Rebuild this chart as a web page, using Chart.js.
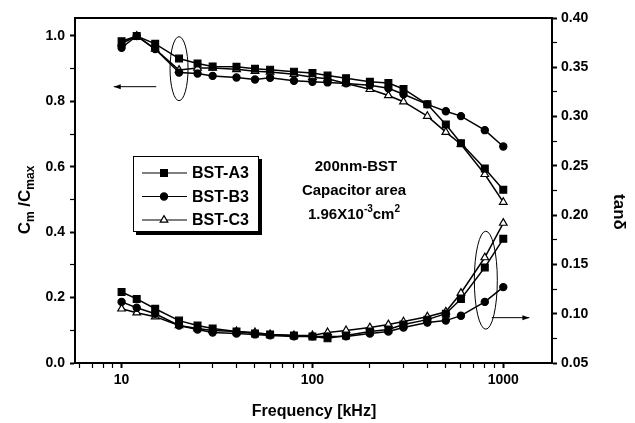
<!DOCTYPE html>
<html>
<head>
<meta charset="utf-8">
<script src="https://cdn.jsdelivr.net/npm/chart.js@4.4.1/dist/chart.umd.min.js"></script>
<style>
  html, body { margin: 0; padding: 0; background: #fff; }
</style>
</head>
<body>
<canvas id="freqChart" width="635" height="423"></canvas>
<script>
// Frequency points (kHz)
const freq = [10, 12, 15, 20, 25, 30, 40, 50, 60, 80, 100, 120, 150, 200, 250, 300, 400, 500, 600, 800, 1000];

// Normalised capacitance Cm/Cmax (left axis)
const cmA3 = [0.984, 1.0, 0.976, 0.931, 0.916, 0.907, 0.906, 0.900, 0.897, 0.891, 0.887, 0.879, 0.871, 0.860, 0.856, 0.838, 0.791, 0.729, 0.672, 0.595, 0.530];
const cmB3 = [0.964, 1.0, 0.960, 0.888, 0.885, 0.878, 0.873, 0.867, 0.872, 0.863, 0.860, 0.858, 0.855, 0.849, 0.840, 0.822, 0.791, 0.770, 0.755, 0.712, 0.662];
const cmC3 = [0.977, 1.0, 0.960, 0.896, 0.902, 0.902, 0.898, 0.892, 0.890, 0.883, 0.874, 0.869, 0.855, 0.837, 0.818, 0.799, 0.755, 0.706, 0.669, 0.577, 0.492];

// Loss tangent (right axis)
const tanA3 = [0.122, 0.115, 0.105, 0.093, 0.088, 0.085, 0.082, 0.080, 0.079, 0.078, 0.077, 0.075, 0.078, 0.082, 0.084, 0.089, 0.094, 0.100, 0.115, 0.147, 0.176];
const tanB3 = [0.112, 0.106, 0.100, 0.088, 0.084, 0.081, 0.080, 0.079, 0.078, 0.077, 0.077, 0.077, 0.077, 0.080, 0.082, 0.086, 0.091, 0.093, 0.098, 0.112, 0.127];
const tanC3 = [0.105, 0.101, 0.097, 0.088, 0.085, 0.083, 0.082, 0.081, 0.079, 0.078, 0.078, 0.081, 0.083, 0.086, 0.089, 0.092, 0.097, 0.102, 0.121, 0.157, 0.192];

const seriesNames = ["BST-A3", "BST-B3", "BST-C3"];

// Tick positions / labels
const xTicks = [6, 7, 8, 9, 10, 20, 30, 40, 50, 60, 70, 80, 90, 100, 200, 300, 400, 500, 600, 700, 800, 900, 1000];
const xLabels = [10, 100, 1000];
const leftTicks = [0, 0.1, 0.2, 0.3, 0.4, 0.5, 0.6, 0.7, 0.8, 0.9, 1.0];
const leftLabels = [0, 0.2, 0.4, 0.6, 0.8, 1.0];
const rightTicks = [0.05, 0.075, 0.1, 0.125, 0.15, 0.175, 0.2, 0.225, 0.25, 0.275, 0.3, 0.325, 0.35, 0.375, 0.4];
const rightLabels = [0.05, 0.1, 0.15, 0.2, 0.25, 0.3, 0.35, 0.4];

const FONT = "'Liberation Sans', Arial, sans-serif";

function pts(ys) {
    return freq.map((f, i) => ({ x: f, y: ys[i] }));
}

function style(name, axis, ys, shape, radius, fill) {
    return {
        label: name,
        data: pts(ys),
        yAxisID: axis,
        borderColor: "#000",
        borderWidth: 1.5,
        pointStyle: shape,
        pointRadius: radius,
        pointBackgroundColor: fill,
        pointBorderColor: "#000",
        pointBorderWidth: 1.2,
        tension: 0,
        fill: false,
    };
}

function isIn(list, v) {
    return list.some(l => Math.abs(l - v) < 1e-6);
}

// draw one marker like Chart.js does
function marker(ctx, shape, x, y, r, fill) {
    ctx.beginPath();
    if (shape === "rect") {
        const s = Math.SQRT1_2 * r;
        ctx.rect(x - s, y - s, 2 * s, 2 * s);
    } else if (shape === "triangle") {
        for (let k = 0; k < 3; k++) {
            const a = k * 2 * Math.PI / 3;
            const px = x + Math.sin(a) * r, py = y - Math.cos(a) * r;
            if (k === 0) ctx.moveTo(px, py); else ctx.lineTo(px, py);
        }
        ctx.closePath();
    } else {
        ctx.arc(x, y, r, 0, 2 * Math.PI);
    }
    ctx.fillStyle = fill;
    ctx.fill();
    ctx.lineWidth = 1.2;
    ctx.strokeStyle = "#000";
    ctx.stroke();
}

// text with sub/superscripts, centred at x
function richText(ctx, parts, x, y) {
    let total = 0;
    parts.forEach(p => {
        ctx.font = "bold " + p.size + "px " + FONT;
        p.w = ctx.measureText(p.t).width;
        total += p.w;
    });
    let cx = x - total / 2;
    ctx.textAlign = "left";
    ctx.textBaseline = "alphabetic";
    parts.forEach(p => {
        ctx.font = "bold " + p.size + "px " + FONT;
        ctx.fillText(p.t, cx, y + (p.dy || 0));
        cx += p.w;
    });
}

function arrow(ctx, x1, y1, x2, y2) {
    const dir = Math.sign(x2 - x1);
    ctx.beginPath();
    ctx.moveTo(x1, y1);
    ctx.lineTo(x2, y2);
    ctx.lineWidth = 1;
    ctx.stroke();
    ctx.beginPath();
    ctx.moveTo(x2, y2);
    ctx.lineTo(x2 - dir * 7, y2 - 2.5);
    ctx.lineTo(x2 - dir * 7, y2 + 2.5);
    ctx.closePath();
    ctx.fill();
}

const decorPlugin = {
    id: "decor",
    afterDraw(chart) {
        const ctx = chart.ctx;
        const a = chart.chartArea;
        const sx = chart.scales.x, sl = chart.scales.y, sr = chart.scales.y1;
        ctx.save();
        ctx.strokeStyle = "#000";
        ctx.fillStyle = "#000";

        // frame
        ctx.lineWidth = 2;
        ctx.strokeRect(a.left, a.top, a.right - a.left, a.bottom - a.top);

        // ellipse + arrow for capacitance (left axis)
        ctx.lineWidth = 1;
        ctx.beginPath();
        ctx.ellipse(sx.getPixelForValue(20), sl.getPixelForValue(0.90), 9, 32, 0, 0, 2 * Math.PI);
        ctx.stroke();
        arrow(ctx, sx.getPixelForValue(15.2), sl.getPixelForValue(0.845), sx.getPixelForValue(9.1), sl.getPixelForValue(0.845));

        // ellipse + arrow for loss (right axis)
        ctx.beginPath();
        ctx.ellipse(sx.getPixelForValue(810), sr.getPixelForValue(0.134), 11.5, 49, 0, 0, 2 * Math.PI);
        ctx.stroke();
        arrow(ctx, sx.getPixelForValue(870), sr.getPixelForValue(0.096), sx.getPixelForValue(1370), sr.getPixelForValue(0.096));

        // notes
        ctx.fillStyle = "#000";
        richText(ctx, [{ t: "200nm-BST", size: 15 }], 356, 171);
        richText(ctx, [{ t: "Capacitor area", size: 15 }], 354, 195);
        richText(ctx, [
            { t: "1.96X10", size: 15 },
            { t: "-3", size: 10, dy: -7 },
            { t: "cm", size: 15 },
            { t: "2", size: 10, dy: -7 },
        ], 354, 219);

        // legend box with shadow
        const lx = 133, ly = 156, lw = 126, lh = 76;
        ctx.fillStyle = "#000";
        ctx.fillRect(lx + 3, ly + 3, lw, lh);
        ctx.fillStyle = "#fff";
        ctx.fillRect(lx, ly, lw, lh);
        ctx.lineWidth = 1;
        ctx.strokeRect(lx + 0.5, ly + 0.5, lw - 1, lh - 1);
        const ds = chart.data.datasets;
        [0, 1, 2].forEach(i => {
            const y = 173 + i * 23.5;
            ctx.beginPath();
            ctx.moveTo(142, y);
            ctx.lineTo(187, y);
            ctx.lineWidth = 1.2;
            ctx.strokeStyle = "#000";
            ctx.stroke();
            marker(ctx, ds[i].pointStyle, 164, y, ds[i].pointRadius, ds[i].pointBackgroundColor);
            ctx.fillStyle = "#000";
            ctx.font = "bold 16px " + FONT;
            ctx.textAlign = "left";
            ctx.textBaseline = "middle";
            ctx.fillText(ds[i].label, 192, y + 1);
        });

        // axis titles
        ctx.fillStyle = "#000";
        richText(ctx, [{ t: "Frequency [kHz]", size: 16 }], 314, 416);

        ctx.save();
        ctx.translate(30, 200);
        ctx.rotate(-Math.PI / 2);
        richText(ctx, [
            { t: "C", size: 17 },
            { t: "m", size: 12, dy: 4 },
            { t: " /C", size: 17 },
            { t: "max", size: 12, dy: 4 },
        ], 0, 0);
        ctx.restore();

        ctx.save();
        ctx.translate(614, 212);
        ctx.rotate(Math.PI / 2);
        richText(ctx, [{ t: "tanδ", size: 17 }], 0, 0);
        ctx.restore();

        ctx.restore();
    },
};

const tickFont = { family: FONT, size: 14, weight: "bold" };

new Chart(document.getElementById("freqChart").getContext("2d"), {
    type: "line",
    data: {
        datasets: [
            style(seriesNames[0], "y", cmA3, "rect", 4.8, "#000"),
            style(seriesNames[1], "y", cmB3, "circle", 3.6, "#000"),
            style(seriesNames[2], "y", cmC3, "triangle", 4.4, "#fff"),
            style(seriesNames[0], "y1", tanA3, "rect", 4.8, "#000"),
            style(seriesNames[1], "y1", tanB3, "circle", 3.6, "#000"),
            style(seriesNames[2], "y1", tanC3, "triangle", 4.4, "#fff"),
        ],
    },
    options: {
        responsive: false,
        animation: false,
        devicePixelRatio: 1,
        layout: { padding: { top: 18, right: 0, bottom: 0, left: 0 } },
        plugins: {
            legend: { display: false },
            tooltip: { enabled: false },
        },
        scales: {
            x: {
                type: "logarithmic",
                position: "bottom",
                min: 5.7,
                max: 1800,
                afterBuildTicks: s => { s.ticks = xTicks.map(v => ({ value: v })); },
                afterFit: s => { s.height = 60; },
                ticks: {
                    autoSkip: false,
                    maxRotation: 0,
                    padding: 4,
                    color: "#000",
                    font: tickFont,
                    callback: v => (isIn(xLabels, v) ? String(v) : ""),
                },
                grid: {
                    drawOnChartArea: false,
                    drawTicks: true,
                    tickLength: 5,
                    color: "#000",
                    tickWidth: c => (isIn(xLabels, c.tick.value) ? 2 : 1.2),
                },
                border: { display: true, color: "#000", width: 2 },
            },
            y: {
                position: "left",
                min: 0,
                max: 1.055,
                afterBuildTicks: s => { s.ticks = leftTicks.map(v => ({ value: v })); },
                afterFit: s => { s.width = 75; },
                ticks: {
                    padding: 5,
                    color: "#000",
                    font: tickFont,
                    callback: v => (isIn(leftLabels, v) ? v.toFixed(1) : ""),
                },
                grid: {
                    drawOnChartArea: false,
                    tickLength: 5,
                    color: "#000",
                    tickWidth: c => (isIn(leftLabels, c.tick.value) ? 2 : 1.2),
                },
                border: { display: true, color: "#000", width: 2 },
            },
            y1: {
                position: "right",
                min: 0.05,
                max: 0.4,
                afterBuildTicks: s => { s.ticks = rightTicks.map(v => ({ value: v })); },
                afterFit: s => { s.width = 83; },
                ticks: {
                    padding: 4,
                    color: "#000",
                    font: tickFont,
                    callback: v => (isIn(rightLabels, v) ? v.toFixed(2) : ""),
                },
                grid: {
                    drawOnChartArea: false,
                    tickLength: 5,
                    color: "#000",
                    tickWidth: c => (isIn(rightLabels, c.tick.value) ? 2 : 1.2),
                },
                border: { display: true, color: "#000", width: 2 },
            },
        },
    },
    plugins: [decorPlugin],
});
</script>
</body>
</html>
